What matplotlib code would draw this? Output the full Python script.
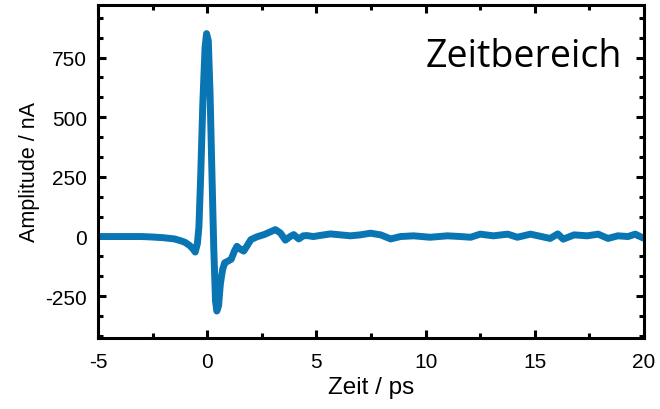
import numpy as np
import matplotlib
matplotlib.use('Agg')
import matplotlib.pyplot as plt
from matplotlib.ticker import MultipleLocator

plt.rcParams['font.family'] = ['Liberation Sans', 'DejaVu Sans']
plt.rcParams['axes.unicode_minus'] = False

t = np.array([-5, -4, -3, -2.5, -2, -1.5, -1.2, -1.0, -0.8, -0.65,
              -0.55, -0.45, -0.38, -0.3, -0.2, -0.1, -0.03, 0.05, 0.13, 0.22,
              0.3, 0.38, 0.44, 0.52, 0.6, 0.7, 0.8, 0.95, 1.1, 1.25,
              1.36, 1.5, 1.67, 1.85, 2.0, 2.28, 2.6, 2.9, 3.12, 3.35,
              3.58, 3.8, 3.96, 4.19, 4.4, 4.57, 4.86, 5.2, 5.64, 6.1,
              6.56, 7.0, 7.48, 7.94, 8.4, 8.85, 9.45, 10.2, 11.0, 11.6,
              12.06, 12.5, 13.1, 13.76, 14.2, 14.8, 15.3, 15.7, 16.05, 16.3,
              16.8, 17.4, 17.9, 18.35, 18.8, 19.27, 19.6, 20.0])
amp = np.array([0, 0, 0, -2, -5, -10, -18, -25, -38, -52,
                -65, -30, 40, 250, 560, 790, 850, 820, 600, 250,
                -50, -270, -312, -290, -200, -140, -110, -103, -95, -60,
                -41, -52, -61, -35, -13, -1, 8, 20, 29, 15,
                -15, 0, 8, -10, 3, 4, 0, 5, 11, 7,
                3, 7, 14, 7, -10, 0, 3, -3, 3, 0,
                -3, 10, 3, 10, -3, 10, 0, -8, 11, -11,
                7, 3, 10, -8, 3, 0, 10, -8])

fig = plt.figure(figsize=(6.6, 4.1), dpi=100)
ax = fig.add_axes([0.1485, 0.1732, 0.8273, 0.8122])

ax.plot(t, amp, '-', color='#0a75b3', lw=5, solid_joinstyle='round', solid_capstyle='butt')

ax.set_xlim(-5, 20)
ax.set_ylim(-425, 970)
ax.xaxis.set_major_locator(MultipleLocator(5))
ax.xaxis.set_minor_locator(MultipleLocator(2.5))
ax.yaxis.set_major_locator(MultipleLocator(250))
ax.yaxis.set_minor_locator(MultipleLocator(250 / 3))

for s in ax.spines.values():
    s.set_linewidth(2.2)
ax.tick_params(which='both', direction='in', top=True, right=True, width=2.2, labelsize=15, pad=8)
ax.tick_params(axis='x', which='major', pad=10)
ax.tick_params(which='major', length=6)
ax.tick_params(which='minor', length=3.5)

ax.set_xlabel('Zeit / ps', fontsize=17.5, labelpad=4)
ax.set_ylabel('Amplitude / nA', fontsize=15.5, labelpad=4)

ax.text(0.96, 0.817, 'Zeitbereich', transform=ax.transAxes, ha='right', va='baseline',
        fontsize=27, family=['Open Sans', 'DejaVu Sans'])

fig.savefig('out.png', dpi=100)
